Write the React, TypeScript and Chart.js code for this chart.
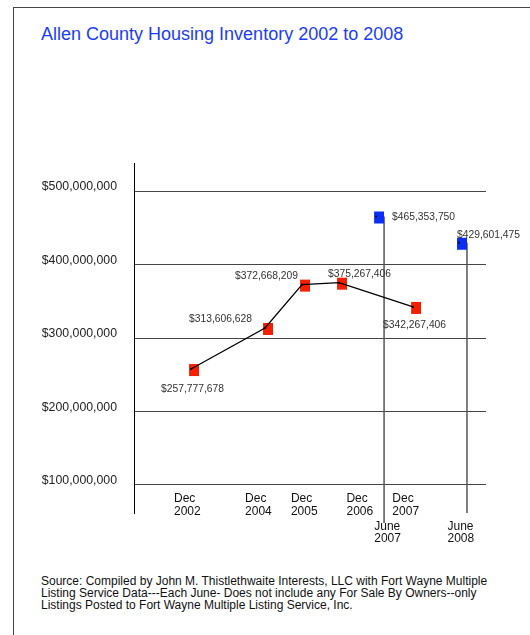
import React, { useEffect, useRef } from 'react';
import { Chart, registerables } from 'chart.js';

Chart.register(...registerables);

const chartTitle = 'Allen County Housing Inventory 2002 to 2008';
const sourceLines = [
  'Source: Compiled by John M. Thistlethwaite Interests, LLC with Fort Wayne Multiple',
  'Listing Service Data---Each June- Does not include any For Sale By Owners--only',
  'Listings Posted to Fort Wayne Multiple Listing Service, Inc.',
];

// December series
const decLabels = [['Dec', '2002'], ['Dec', '2004'], ['Dec', '2005'], ['Dec', '2006'], ['Dec', '2007']];
const decSlots = [0, 2, 3, 4, 6];
const decValues = [257777678, 313606628, 372668209, 375267406, 342267406];
const decTickSlots = [-0.46, 1.46, 2.7, 4.2, 5.44];

// June series
const juneLabels = [['June', '2007'], ['June', '2008']];
const juneSlots = [5, 7.24];
const juneValues = [465353750, 429601475];
const juneTickSlots = [4.95, 6.93];

// Axis
const yTickValues = [100000000, 200000000, 300000000, 400000000, 500000000];
const yMin = 61900000;
const yMax = 538100000;
const xMin = -1.54;
const xMax = 7.97;

// label placement styles (pixel offsets relative to point)
const decLabelStyle = [
  { dx: 1.5, dy: 20, align: 'center' },
  { dx: -13, dy: -9, align: 'right' },
  { dx: -4, dy: -8, align: 'right' },
  { dx: -11, dy: -9, align: 'left' },
  { dx: 1.5, dy: 18, align: 'center' },
];
const juneLabelStyle = [
  { dx: 16, dy: 1, align: 'left' },
  { dx: -2, dy: -8, align: 'left' },
];
const juneDropExtra = [10, 0];

const RED = '#f41e00';
const BLUE = '#0a2ef5';
const FONT = "'Liberation Sans', Arial, Helvetica, sans-serif";

const money = (v: number) => '$' + v.toLocaleString('en-US');

function makeMarker(color: string) {
  const c = document.createElement('canvas');
  c.width = 16;
  c.height = 16;
  const g = c.getContext('2d')!;
  g.fillStyle = color;
  g.fillRect(6, 3, 10, 12);
  return c;
}

export default function App() {
  const ref = useRef<HTMLCanvasElement | null>(null);

  useEffect(() => {
    if (!ref.current) return;
    const redMarker = makeMarker(RED);
    const blueMarker = makeMarker(BLUE);

    const decPts = decSlots.map((s, i) => ({ x: s, y: decValues[i] }));
    const junePts = juneSlots.map((s, i) => ({ x: s, y: juneValues[i] }));

    const overlay = {
      id: 'overlay',
      beforeDatasetsDraw(chart: any) {
        const { ctx, scales, chartArea } = chart;
        const xs = scales.x;
        const ys = scales.y;
        ctx.save();
        ctx.strokeStyle = '#555';
        ctx.lineWidth = 1.5;
        junePts.forEach((p, i) => {
          const px = xs.getPixelForValue(p.x) + 8;
          const py = ys.getPixelForValue(p.y);
          ctx.beginPath();
          ctx.moveTo(px, py);
          ctx.lineTo(px, chartArea.bottom + juneDropExtra[i]);
          ctx.stroke();
        });
        ctx.restore();
      },
      afterDatasetsDraw(chart: any) {
        const { ctx, scales, chartArea } = chart;
        const xs = scales.x;
        const ys = scales.y;
        ctx.save();
        ctx.font = `10.3px ${FONT}`;
        ctx.fillStyle = '#333';
        ctx.textBaseline = 'middle';
        const drawLbl = (p: any, st: any) => {
          ctx.textAlign = st.align;
          ctx.fillText(money(p.y), xs.getPixelForValue(p.x) + st.dx, ys.getPixelForValue(p.y) + st.dy);
        };
        decPts.forEach((p, i) => drawLbl(p, decLabelStyle[i]));
        junePts.forEach((p, i) => drawLbl(p, juneLabelStyle[i]));

        ctx.font = `12px ${FONT}`;
        ctx.fillStyle = '#111';
        ctx.textAlign = 'left';
        decTickSlots.forEach((s, i) => {
          const x = xs.getPixelForValue(s);
          ctx.fillText(decLabels[i][0], x, chartArea.bottom - 14.3);
          ctx.fillText(decLabels[i][1], x, chartArea.bottom - 1.3);
        });
        juneTickSlots.forEach((s, i) => {
          const x = xs.getPixelForValue(s);
          ctx.fillText(juneLabels[i][0], x, chartArea.bottom + 13.7);
          ctx.fillText(juneLabels[i][1], x, chartArea.bottom + 26);
        });
        ctx.restore();
      },
    };

    const chart = new Chart(ref.current, {
      type: 'scatter',
      data: {
        datasets: [
          {
            label: 'Dec markers',
            data: decPts,
            pointStyle: redMarker as any,
            pointRadius: 7,
            showLine: false,
            order: 3,
          },
          {
            label: 'June markers',
            data: junePts,
            pointStyle: blueMarker as any,
            pointRadius: 7,
            showLine: false,
            order: 3,
          },
          {
            label: 'Dec line',
            data: decPts,
            showLine: true,
            borderColor: '#000',
            borderWidth: 1.3,
            pointRadius: 1,
            pointBorderWidth: 0,
            pointBackgroundColor: '#000',
            order: 1,
          },
          {
            label: 'June dots',
            data: junePts,
            showLine: false,
            pointRadius: 1,
            pointBorderWidth: 0,
            pointBackgroundColor: '#000',
            order: 1,
          },
        ],
      },
      options: {
        animation: false,
        responsive: false,
        events: [],
        layout: { padding: { left: 0, top: 13, right: 44, bottom: 47 } },
        plugins: {
          legend: { display: false },
          tooltip: { enabled: false },
        },
        scales: {
          x: {
            type: 'linear',
            display: false,
            min: xMin,
            max: xMax,
          },
          y: {
            type: 'linear',
            min: yMin,
            max: yMax,
            afterBuildTicks: (scale: any) => {
              scale.ticks = yTickValues.map((v) => ({ value: v }));
            },
            afterFit: (scale: any) => {
              scale.width = 134;
              scale.paddingTop = 0;
              scale.paddingBottom = 0;
            },
            grid: { color: '#444', lineWidth: 1, drawTicks: false },
            border: { display: true, color: '#000', width: 1 },
            ticks: {
              padding: 17,
              labelOffset: -4,
              color: '#222',
              font: { family: FONT, size: 12.3 },
              callback: (v: any) => money(Number(v)),
            },
          },
        },
      },
      plugins: [overlay],
    });
    return () => chart.destroy();
  }, []);

  return (
    <div style={{ position: 'absolute', left: 0, top: 0, width: 530, height: 635, overflow: 'hidden', background: '#fff' }}>
      <div
        style={{
          position: 'absolute',
          left: 13,
          top: 7,
          width: 600,
          height: 700,
          borderLeft: '1.5px solid #444',
          borderTop: '1.5px solid #444',
        }}
      />
      <div
        style={{
          position: 'absolute',
          left: 41,
          top: 25,
          fontFamily: FONT,
          fontSize: 18,
          lineHeight: '18px',
          color: '#1c3cfb',
          whiteSpace: 'nowrap',
        }}
      >
        {chartTitle}
      </div>
      <canvas ref={ref} width={530} height={410} style={{ position: 'absolute', left: 0, top: 150 }} />
      <div
        style={{
          position: 'absolute',
          left: 41,
          top: 575,
          fontFamily: FONT,
          fontSize: 12,
          lineHeight: '12px',
          color: '#111',
          whiteSpace: 'nowrap',
        }}
      >
        {sourceLines.map((l, i) => (
          <div key={i}>{l}</div>
        ))}
      </div>
    </div>
  );
}
